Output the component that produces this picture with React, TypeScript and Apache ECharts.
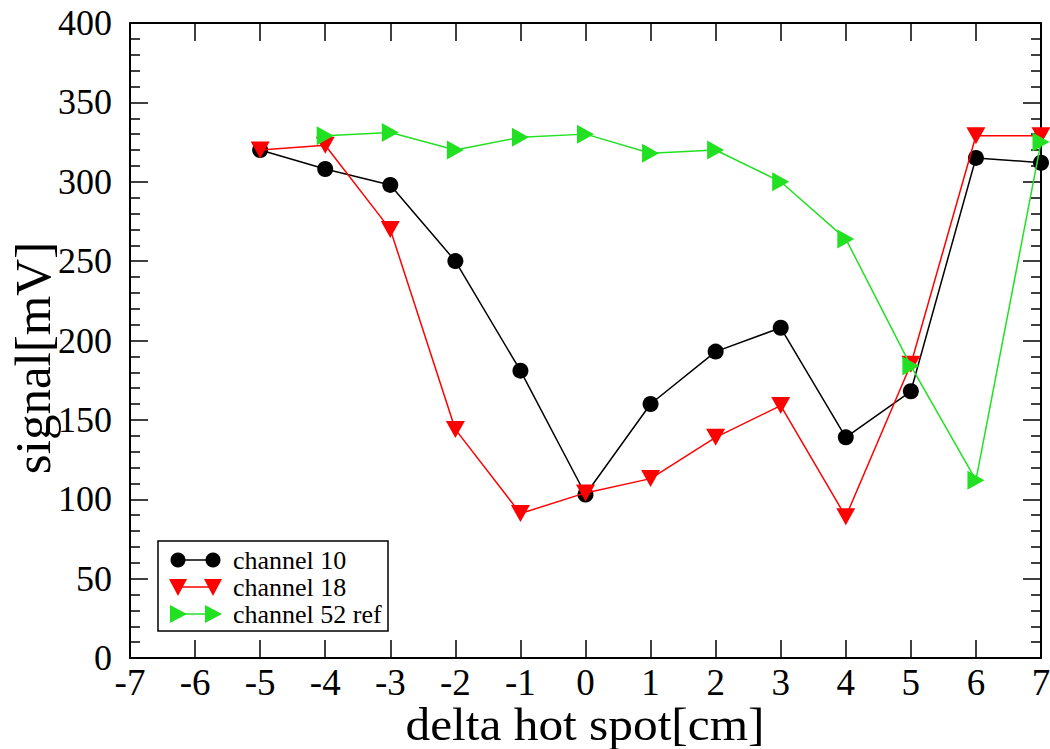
import React, { useEffect, useRef } from "react";
import * as echarts from "echarts";

const xValues = [-5, -4, -3, -2, -1, 0, 1, 2, 3, 4, 5, 6, 7];
const channel10 = [320, 308, 298, 250, 181, 103, 160, 193, 208, 139, 168, 315, 312];
const channel18 = [320, 323, 270, 144, 91, 104, 113, 139, 159, 89, 185, 329, 329];
const channel52X = [-4, -3, -2, -1, 0, 1, 2, 3, 4, 5, 6, 7];
const channel52 = [329, 331, 320, 328, 330, 318, 320, 300, 264, 184, 112, 325];
const seriesNames = ["channel 10", "channel 18", "channel 52 ref"];
const xTitle = "delta hot spot[cm]";
const yTitle = "signal[mV]";

const FONT = "Liberation Serif";
const BLACK = "#000000";
const RED = "#ff0000";
const GREEN = "#22e022";

function titleGraphic() {
  return [
    {
      type: "text",
      x: 585,
      y: 724,
      scaleX: 1.05,
      style: {
        text: xTitle,
        fill: "#000",
        font: `47px "${FONT}"`,
        align: "center",
        verticalAlign: "middle",
      },
    },
    {
      type: "text",
      x: 33,
      y: 358,
      rotation: Math.PI / 2,
      scaleX: 1.02,
      style: {
        text: yTitle,
        fill: "#000",
        font: `50px "${FONT}"`,
        align: "center",
        verticalAlign: "middle",
      },
    },
  ];
}

function legendGraphic() {
  const left = 158;
  const top = 541;
  const rowY = [560, 587, 614];
  const x1 = 178;
  const x2 = 213;
  const els: any[] = [
    {
      type: "rect",
      shape: { x: left, y: top, width: 230, height: 90 },
      style: { fill: "#fff", stroke: "#000", lineWidth: 1.5 },
      z: 100,
    },
  ];
  const colors = [BLACK, RED, GREEN];
  rowY.forEach((y, i) => {
    els.push({
      type: "line",
      shape: { x1, y1: y, x2, y2: y },
      style: { stroke: colors[i], lineWidth: 1.5 },
      z: 101,
    });
    [x1, x2].forEach((cx) => {
      if (i === 0) {
        els.push({ type: "circle", shape: { cx, cy: y, r: 7.5 }, style: { fill: BLACK }, z: 102 });
      } else if (i === 1) {
        els.push({
          type: "polygon",
          shape: { points: [[cx - 9, y - 8], [cx + 9, y - 8], [cx, y + 9]] },
          style: { fill: RED },
          z: 102,
        });
      } else {
        els.push({
          type: "polygon",
          shape: { points: [[cx - 8, y - 9], [cx - 8, y + 9], [cx + 9, y]] },
          style: { fill: GREEN },
          z: 102,
        });
      }
    });
    els.push({
      type: "text",
      x: 233,
      y,
      style: {
        text: seriesNames[i],
        fill: "#000",
        font: `26px "${FONT}"`,
        verticalAlign: "middle",
        align: "left",
      },
      z: 102,
    });
  });
  return els;
}

export default function App() {
  const ref = useRef<HTMLDivElement>(null);
  useEffect(() => {
    if (!ref.current) return;
    const chart = echarts.init(ref.current, undefined, { renderer: "svg" });
    const axisLine = { show: true, onZero: false, lineStyle: { color: "#000", width: 2 } };
    const tick = { show: true, inside: true, length: 18, lineStyle: { color: "#000", width: 1.5 } };
    const minor = { show: true, splitNumber: 5, length: 10, lineStyle: { color: "#000", width: 1.5 } };
    chart.setOption({
      animation: false,
      backgroundColor: "#fff",
      grid: { left: 130, top: 23, right: 9, bottom: 91, containLabel: false, outerBoundsMode: "none" },
      xAxis: [
        {
          type: "value",
          min: -7,
          max: 7,
          interval: 1,
          position: "bottom",
          axisLine,
          axisTick: tick,
          axisLabel: { color: "#000", fontFamily: FONT, fontSize: 37, margin: 6 },
          splitLine: { show: false },
        },
        {
          type: "value",
          min: -7,
          max: 7,
          interval: 1,
          position: "top",
          axisLine,
          axisTick: tick,
          axisLabel: { show: false },
          splitLine: { show: false },
        },
      ],
      yAxis: [
        {
          type: "value",
          min: 0,
          max: 400,
          interval: 50,
          position: "left",
          axisLine,
          axisTick: tick,
          minorTick: minor,
          axisLabel: { color: "#000", fontFamily: FONT, fontSize: 36, margin: 18 },
          splitLine: { show: false },
        },
        {
          type: "value",
          min: 0,
          max: 400,
          interval: 50,
          position: "right",
          axisLine,
          axisTick: tick,
          minorTick: minor,
          axisLabel: { show: false },
          splitLine: { show: false },
        },
      ],
      series: [
        {
          name: seriesNames[0],
          type: "line",
          data: xValues.map((x, i) => [x, channel10[i]]),
          symbol: "circle",
          symbolSize: 16,
          clip: false,
          itemStyle: { color: BLACK },
          lineStyle: { color: BLACK, width: 1.5 },
          z: 3,
        },
        {
          name: seriesNames[1],
          type: "line",
          data: xValues.map((x, i) => [x, channel18[i]]),
          symbol: "triangle",
          symbolRotate: 180,
          symbolSize: [19, 17],
          clip: false,
          itemStyle: { color: RED },
          lineStyle: { color: RED, width: 1.5 },
          z: 4,
        },
        {
          name: seriesNames[2],
          type: "line",
          data: channel52X.map((x, i) => [x, channel52[i]]),
          symbol: "triangle",
          symbolRotate: -90,
          symbolSize: [19, 17],
          clip: false,
          itemStyle: { color: GREEN },
          lineStyle: { color: GREEN, width: 1.5 },
          z: 5,
        },
      ],
      graphic: [...titleGraphic(), ...legendGraphic()],
    });
    return () => chart.dispose();
  }, []);
  return (
    <div
      ref={ref}
      style={{ position: "fixed", left: 0, top: 0, width: 1050, height: 749 }}
    />
  );
}
